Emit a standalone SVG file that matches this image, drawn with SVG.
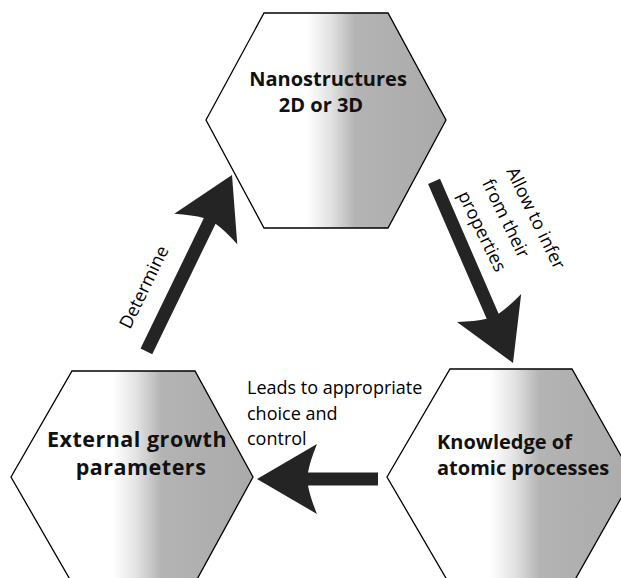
<svg xmlns="http://www.w3.org/2000/svg" width="621" height="578" viewBox="0 0 621 578">
<defs>
<linearGradient id="hexFill" x1="0" y1="0" x2="1" y2="0">
<stop offset="0" stop-color="#ffffff"/>
<stop offset="0.42" stop-color="#ffffff"/>
<stop offset="0.52" stop-color="#e2e2e2"/>
<stop offset="0.62" stop-color="#b4b4b4"/>
<stop offset="1" stop-color="#aaaaaa"/>
</linearGradient>
<style>
.hex{fill:url(#hexFill);stroke:#000;stroke-width:1.3;stroke-linejoin:miter}
.title{font-family:"Open Sans","Liberation Sans",sans-serif;font-weight:700;font-size:20px;fill:#111}
.big{font-size:21.5px;letter-spacing:0.5px}
.lbl{font-family:"Open Sans","Liberation Sans",sans-serif;font-size:18px;fill:#000}
.arrow{fill:#242424}
</style>
</defs>
<rect width="621" height="578" fill="#fff"/>
<g id="node-nanostructures">
<polygon class="hex" points="206,120 264,13 388,13 446,120 388,228 264,228"/>
<text class="title" x="328" y="86" text-anchor="middle">Nanostructures</text>
<text class="title" x="321" y="112" text-anchor="middle">2D or 3D</text>
</g>
<g id="node-external">
<polygon class="hex" points="11,477 72,371 195,371 253,477 195,583 72,583"/>
<text class="title big" x="137" y="447" text-anchor="middle">External growth</text>
<text class="title big" x="141" y="475" text-anchor="middle">parameters</text>
</g>
<g id="node-knowledge">
<polygon class="hex" points="387,477 450,369 572,369 633,477 572,585 450,585"/>
<text class="title" x="437" y="449">Knowledge of</text>
<text class="title" x="437" y="475">atomic processes</text>
</g>
<g id="connectors">
<path class="arrow" transform="translate(232,175) rotate(-64.1)" d="M0,0 L-60,-35 Q-53,-18 -51,-6.5 L-196,-6.5 L-196,6.5 L-51,6.5 Q-53,18 -60,35 Z"/>
<path class="arrow" transform="translate(513,363) rotate(66.5)" d="M0,0 L-60,-35 Q-53,-18 -51,-6.5 L-198,-6.5 L-198,6.5 L-51,6.5 Q-53,18 -60,35 Z"/>
<path class="arrow" transform="translate(257,479) rotate(180)" d="M0,0 L-60,-35 Q-53,-18 -51,-6.5 L-121,-6.5 L-121,6.5 L-51,6.5 Q-53,18 -60,35 Z"/>
<text class="lbl" transform="translate(130,330) rotate(-64.1)">Determine</text>
<g transform="translate(506,171) rotate(64)">
<text class="lbl" x="0" y="0">Allow to infer</text>
<text class="lbl" x="0" y="27">from their</text>
<text class="lbl" x="0" y="54">properties</text>
</g>
<text class="lbl" x="247" y="394">Leads to appropriate</text>
<text class="lbl" x="247" y="420">choice and</text>
<text class="lbl" x="247" y="445">control</text>
</g>
</svg>
